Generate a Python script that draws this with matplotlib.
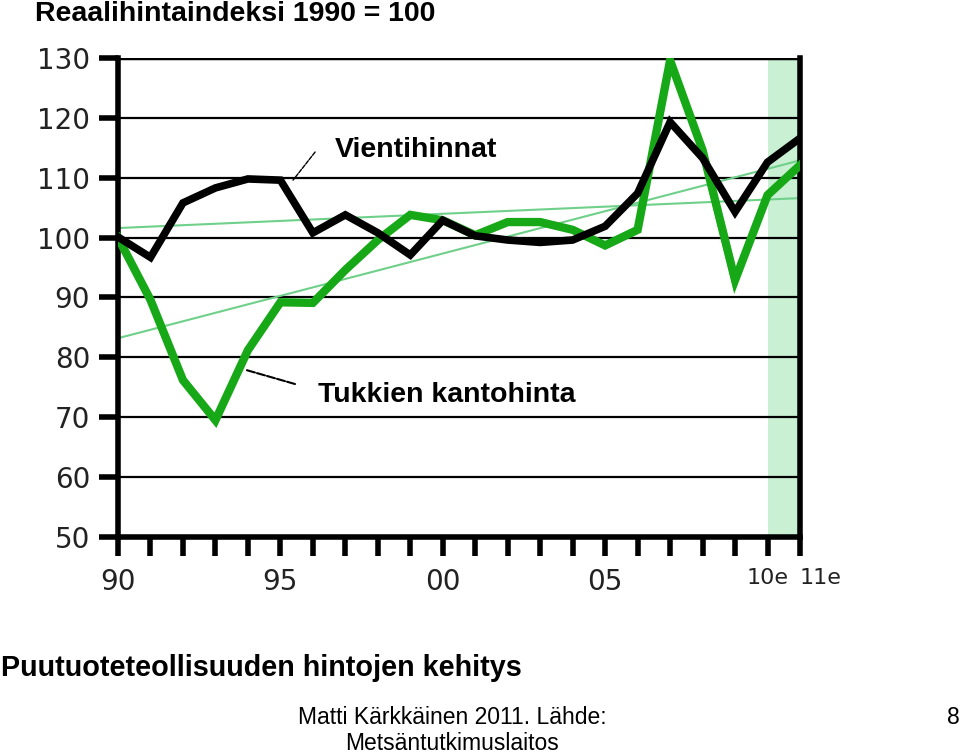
import matplotlib
matplotlib.use("Agg")
import matplotlib.pyplot as plt
import numpy as np

years = list(range(1990, 2012))
vientihinnat = [100.1, 96.7, 105.8, 108.3, 109.8, 109.6, 100.8, 103.8, 100.8, 97.1,
                102.9, 100.3, 99.6, 99.2, 99.6, 101.9, 107.4, 119.3, 113.3, 104.3,
                112.6, 116.6]
kantohinta = [100.0, 89.6, 76.2, 69.5, 81.2, 89.2, 89.1, 94.6, 99.6, 103.8,
              102.9, 100.4, 102.6, 102.6, 101.3, 98.7, 101.3, 129.6, 114.6, 92.9,
              107.1, 112.1]
trend_years = [1990, 2011]
trend_vienti = [101.6, 106.6]
trend_kanto = [83.2, 112.9]
forecast_span = [2010, 2011]
yticks = [50, 60, 70, 80, 90, 100, 110, 120, 130]
xtick_pos = [1990, 1995, 2000, 2005, 2010, 2011]
xtick_labels = ["90", "95", "00", "05", "10e", "11e"]

plt.rcParams['font.family'] = ['Liberation Sans', 'DejaVu Sans']

fig = plt.figure(figsize=(9.6, 7.56), dpi=100)
ax = fig.add_axes([118/960, 1 - 537/756, (800-118)/960, (537-58)/756])

ax.axvspan(forecast_span[0], forecast_span[1], color='#c9f0d3', zorder=0, lw=0)
for v in yticks[1:]:
    ax.axhline(v, color='black', lw=1.6 if v < 130 else 2.5, zorder=1)

green = '#17a817'
ax.plot(trend_years, trend_vienti, color='#6fd08a', lw=1.5, zorder=2)
ax.plot(trend_years, trend_kanto, color='#6fd08a', lw=1.5, zorder=2)
ax.plot(years, kantohinta, color=green, lw=6, zorder=3, solid_joinstyle='miter')
ax.plot(years, vientihinnat, color='black', lw=5.5, zorder=4, solid_joinstyle='miter')

ax.set_xlim(1990, 2011)
ax.set_ylim(50, 130)
ax.set_yticks(yticks)
ax.set_yticklabels([str(v) for v in yticks], fontsize=20, family='DejaVu Sans',
                   color='#222222')
ax.set_xticks(range(1990, 2012))
ax.set_xticklabels([xtick_labels[xtick_pos.index(y)] if y in xtick_pos else ""
                    for y in range(1990, 2012)],
                   fontsize=20, family='DejaVu Sans', color='#222222')
xl = ax.get_xticklabels()
xl[-2].set_fontsize(16)
xl[-1].set_fontsize(16)
xl[-1].set_horizontalalignment('left')
xl[-2].set_horizontalalignment('center')
ax.tick_params(axis='y', length=14, width=4, direction='out', pad=6)
ax.tick_params(axis='x', length=14, width=4, direction='out', pad=8)
for s in ['left', 'bottom', 'right']:
    ax.spines[s].set_linewidth(4)
ax.spines['top'].set_visible(False)

# annotations
ax.annotate("", xy=(1995.39, 109.6), xytext=(1996.07, 114.3),
            arrowprops=dict(arrowstyle='-', color='black', lw=1, ls=(0, (3, 1)),
                            shrinkA=0, shrinkB=0))
ax.text(1996.68, 114.6, "Vientihinnat", fontsize=20.5, fontweight='bold',
        ha='left', va='center')
ax.annotate("", xy=(1993.94, 77.9), xytext=(1995.45, 75.55),
            arrowprops=dict(arrowstyle='-', color='black', lw=1.5, ls=(0, (4, 1)),
                            shrinkA=0, shrinkB=0))
ax.text(1996.16, 73.7, "Tukkien kantohinta", fontsize=20.5, fontweight='bold',
        ha='left', va='center')

fig.text(35/960, 1 - 14/756, "Reaalihintaindeksi 1990 = 100", fontsize=20.5,
         fontweight='bold', ha='left', va='center')
fig.text(1/960, 1 - 668/756, "Puutuoteteollisuuden hintojen kehitys", fontsize=20.7,
         fontweight='bold', ha='left', va='center')
fig.text(452/960, 1 - 718/756, "Matti Kärkkäinen 2011. Lähde:", fontsize=16.5,
         ha='center', va='center')
fig.text(452/960, 1 - 743/756, "Metsäntutkimuslaitos", fontsize=16.5,
         ha='center', va='center')
fig.text(953/960, 1 - 718/756, "8", fontsize=16.5, ha='center', va='center')

fig.savefig("out.png", dpi=100)
